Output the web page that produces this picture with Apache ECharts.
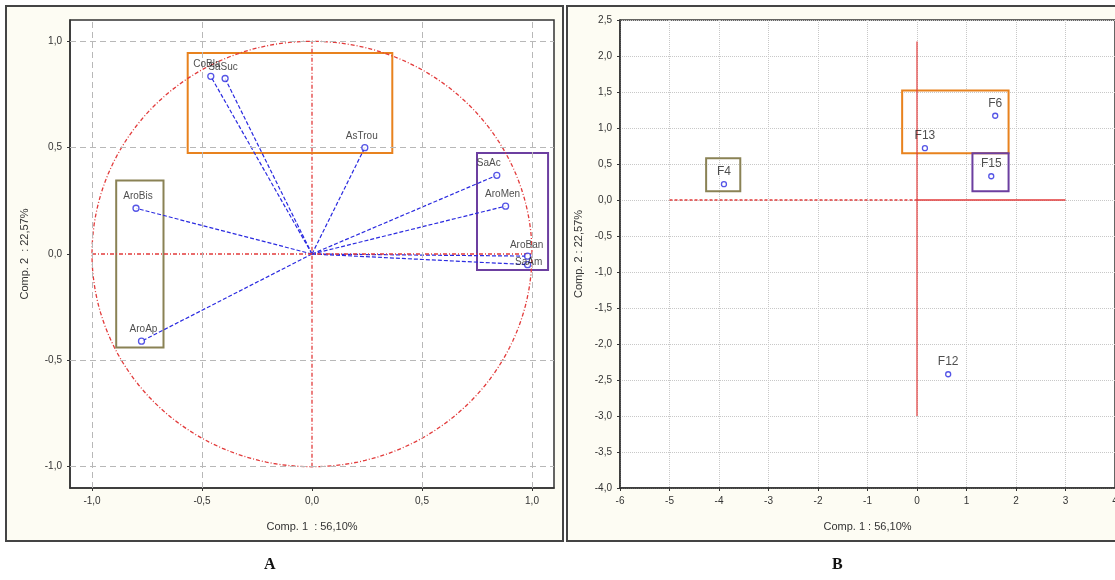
<!DOCTYPE html>
<html>
<head>
<meta charset="utf-8">
<script src="https://cdn.jsdelivr.net/npm/echarts@6/dist/echarts.min.js"></script>
<style>
    body { margin: 0; background: #ffffff; overflow: hidden; }
    #chart { width: 1115px; height: 580px; }
</style>
</head>
<body>
<div id="chart"></div>
<script>
// 数据部分 —— 图 A（变量载荷）
var loadNames = ['CoBla', 'SaSuc', 'AsTrou', 'SaAc', 'AroMen', 'AroBan', 'SaAm', 'AroBis', 'AroAp'];
var loadX = [-0.46, -0.395, 0.24, 0.84, 0.88, 0.98, 0.98, -0.80, -0.775];
var loadY = [0.835, 0.825, 0.50, 0.37, 0.225, -0.01, -0.05, 0.215, -0.41];
var ticksA = [-1.0, -0.5, 0.0, 0.5, 1.0];
var gridLinesA = [-1.0, -0.5, 0.5, 1.0];
// 分组框 [x1, y1, x2, y2]
var boxesA = [
    [-0.565, 0.945, 0.365, 0.475],
    [0.75, 0.475, 1.073, -0.075],
    [-0.89, 0.345, -0.675, -0.44]
];

// 图 B（样本得分）
var scoreNames = ['F4', 'F13', 'F6', 'F15', 'F12'];
var scoreX = [-3.9, 0.16, 1.58, 1.5, 0.63];
var scoreY = [0.22, 0.72, 1.17, 0.33, -2.42];
var boxesB = [
    [-0.3, 1.52, 1.85, 0.65],
    [1.12, 0.65, 1.85, 0.12],
    [-4.26, 0.58, -3.57, 0.12]
];

var boxColors = ['#e8821e', '#6c3fa0', '#8a8255'];
var textColor = '#333';
var fontName = '"Liberation Sans", Arial, sans-serif';

// 小数逗号
function commaFmt(v) {
    return Number(v).toFixed(1).replace('.', ',');
}

function boxAreas(boxes) {
    var arr = [];
    for (var i = 0; i < boxes.length; i++) {
        arr.push([
            {coord: [boxes[i][0], boxes[i][1]], itemStyle: {color: 'rgba(0,0,0,0)', borderColor: boxColors[i], borderWidth: 2}},
            {coord: [boxes[i][2], boxes[i][3]]}
        ]);
    }
    return arr;
}

var loadData = [];
for (var i = 0; i < loadNames.length; i++) {
    loadData.push([loadX[i], loadY[i], loadNames[i]]);
}
var scoreData = [];
for (var j = 0; j < scoreNames.length; j++) {
    scoreData.push([scoreX[j], scoreY[j], scoreNames[j]]);
}

// 标签偏移
var labelOffsetA = [[-4, 0], [-2, 0], [-3, 0], [-8, 0], [-3, 0], [-1, 1], [1, 9], [2, 0], [2, 0]];

var axisCommon = {
    axisLine: {onZero: false, lineStyle: {color: '#333', width: 1.5}},
    axisTick: {length: 3, lineStyle: {color: '#333'}},
    axisLabel: {color: textColor, fontSize: 10, fontFamily: fontName},
    nameTextStyle: {color: textColor, fontSize: 11, fontFamily: fontName}
};

var option = {
    animation: false,
    backgroundColor: '#ffffff',
    graphic: [
        {type: 'rect', shape: {x: 6, y: 6, width: 557, height: 535}, style: {fill: '#fdfcf3', stroke: '#444', lineWidth: 2}, z: -10},
        {type: 'rect', shape: {x: 567, y: 6, width: 560, height: 535}, style: {fill: '#fdfcf3', stroke: '#444', lineWidth: 2}, z: -10},
        {type: 'text', left: 264, top: 557, style: {text: 'A', font: 'bold 16px "Liberation Serif", serif', fill: '#111'}},
        {type: 'text', left: 832, top: 557, style: {text: 'B', font: 'bold 16px "Liberation Serif", serif', fill: '#111'}}
    ],
    grid: [
        {left: 70, top: 20, width: 484, height: 468, outerBoundsMode: 'none', show: true, backgroundColor: '#fff', borderColor: '#333', borderWidth: 1.5},
        {left: 620, top: 20, width: 495, height: 468, outerBoundsMode: 'none', show: true, backgroundColor: '#fff', borderColor: '#333', borderWidth: 1.5}
    ],
    xAxis: [
        echarts.util.merge({
            gridIndex: 0, type: 'value', min: -1.1, max: 1.1,
            name: 'Comp. 1  : 56,10%', nameLocation: 'middle', nameGap: 33,
            splitLine: {show: false},
            axisTick: {customValues: ticksA},
            axisLabel: {customValues: ticksA, formatter: commaFmt}
        }, axisCommon),
        echarts.util.merge({
            gridIndex: 1, type: 'value', min: -6, max: 4, interval: 1,
            name: 'Comp. 1 : 56,10%', nameLocation: 'middle', nameGap: 33,
            splitLine: {show: true, lineStyle: {color: '#c8c8c8', type: 'dotted'}}
        }, axisCommon)
    ],
    yAxis: [
        echarts.util.merge({
            gridIndex: 0, type: 'value', min: -1.1, max: 1.1,
            name: 'Comp. 2  : 22,57%', nameLocation: 'middle', nameGap: 40,
            splitLine: {show: false},
            axisTick: {customValues: ticksA},
            axisLabel: {customValues: ticksA, formatter: commaFmt}
        }, axisCommon),
        echarts.util.merge({
            gridIndex: 1, type: 'value', min: -4, max: 2.5, interval: 0.5,
            name: 'Comp. 2 : 22,57%', nameLocation: 'middle', nameGap: 36,
            splitLine: {show: true, lineStyle: {color: '#c8c8c8', type: 'dotted'}},
            axisLabel: {formatter: commaFmt}
        }, axisCommon)
    ],
    series: [
        // 图 A 网格虚线
        {
            type: 'line', xAxisIndex: 0, yAxisIndex: 0, data: [], silent: true,
            markLine: {
                symbol: 'none', silent: true, label: {show: false},
                lineStyle: {color: '#b8b8b8', type: [6, 4], width: 1},
                data: gridLinesA.map(function (v) { return {xAxis: v}; })
                    .concat(gridLinesA.map(function (v) { return {yAxis: v}; }))
            }
        },
        // 单位圆
        {
            type: 'custom', xAxisIndex: 0, yAxisIndex: 0, silent: true, data: [[0, 0]],
            renderItem: function (params, api) {
                var pts = [];
                for (var k = 0; k <= 180; k++) {
                    var a = k / 180 * Math.PI * 2;
                    pts.push(api.coord([Math.cos(a), Math.sin(a)]));
                }
                return {type: 'polyline', shape: {points: pts}, style: {stroke: '#e23b3b', fill: null, lineWidth: 1.3, lineDash: [4, 2, 1, 2]}};
            }
        },
        // 红色十字
        {
            type: 'line', xAxisIndex: 0, yAxisIndex: 0, silent: true, symbol: 'none',
            data: [[-1, 0], [1, 0]],
            lineStyle: {color: '#e23b3b', width: 1.3, type: [4, 2, 1, 2]}
        },
        {
            type: 'line', xAxisIndex: 0, yAxisIndex: 0, silent: true, symbol: 'none',
            data: [[0, -1], [0, 1]],
            lineStyle: {color: '#e23b3b', width: 1.3, type: [4, 2, 1, 2]}
        },
        // 载荷向量
        {
            type: 'custom', xAxisIndex: 0, yAxisIndex: 0, silent: true, data: loadData,
            renderItem: function (params, api) {
                var p0 = api.coord([0, 0]);
                var p1 = api.coord([api.value(0), api.value(1)]);
                return {type: 'line', shape: {x1: p0[0], y1: p0[1], x2: p1[0], y2: p1[1]},
                    style: {stroke: '#2b2be0', lineWidth: 1.2, lineDash: [4, 2]}};
            }
        },
        // 载荷点
        {
            type: 'scatter', xAxisIndex: 0, yAxisIndex: 0, symbol: 'circle', symbolSize: 6,
            itemStyle: {color: '#fff', borderColor: '#2b2be0', borderWidth: 1.3},
            data: loadData.map(function (d, k) {
                return {value: d, label: {offset: labelOffsetA[k]}};
            }),
            label: {
                show: true, position: 'top', distance: 3,
                formatter: function (p) { return p.value[2]; },
                color: '#222', fontSize: 10, fontFamily: fontName
            },
            markArea: {silent: true, data: boxAreas(boxesA)},
            z: 5
        },
        // 图 B 红线
        {
            type: 'line', xAxisIndex: 1, yAxisIndex: 1, silent: true, symbol: 'none',
            data: [[-5, 0], [0, 0]],
            lineStyle: {color: '#e23b3b', width: 1.3, type: [3, 2]}
        },
        {
            type: 'line', xAxisIndex: 1, yAxisIndex: 1, silent: true, symbol: 'none',
            data: [[0, 0], [3, 0]],
            lineStyle: {color: '#e23b3b', width: 1.5}
        },
        {
            type: 'line', xAxisIndex: 1, yAxisIndex: 1, silent: true, symbol: 'none',
            data: [[0, -3], [0, 2.2]],
            lineStyle: {color: '#e23b3b', width: 1.2}
        },
        // 得分点
        {
            type: 'scatter', xAxisIndex: 1, yAxisIndex: 1, symbol: 'circle', symbolSize: 5,
            itemStyle: {color: '#fff', borderColor: '#2b2be0', borderWidth: 1.3},
            data: scoreData,
            label: {
                show: true, position: 'top', distance: 3,
                formatter: function (p) { return p.value[2]; },
                color: '#222', fontSize: 12, fontFamily: fontName
            },
            markArea: {silent: true, data: boxAreas(boxesB)},
            z: 5
        }
    ]
};

var chart = echarts.init(document.getElementById('chart'));
chart.setOption(option);
</script>
</body>
</html>
